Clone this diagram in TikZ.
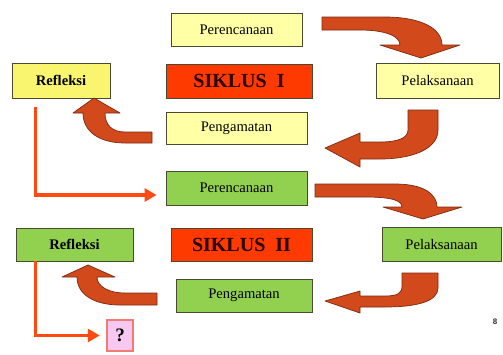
\documentclass[tikz,border=0pt]{standalone}
\usepackage{fontspec}
\setmainfont{Liberation Serif}
\setsansfont{Liberation Sans}
\usepackage{xcolor}
\usetikzlibrary{shapes,arrows,positioning,arrows.meta}

\definecolor{paleyellow}{HTML}{FFFFA6}
\definecolor{reflyellow}{HTML}{FAF56E}
\definecolor{siklusred}{HTML}{FF3A00}
\definecolor{leafgreen}{HTML}{92D050}
\definecolor{boxedge}{HTML}{4A4A30}
\definecolor{arrowred}{HTML}{D2491C}
\definecolor{arrowedge}{HTML}{7A2A10}
\definecolor{linered}{HTML}{FF4A12}
\definecolor{askpink}{HTML}{F6C8F2}
\definecolor{askedge}{HTML}{F07C74}

\begin{document}
\begin{tikzpicture}[x=1pt, y=-1pt,
    stage/.style={rectangle, draw=boxedge, line width=0.8pt, inner sep=0pt,
        font=\fontsize{14.6}{16}\selectfont},
    cycletitle/.style={stage, fill=siklusred, text=black!85!red,
        font=\fontsize{20}{22}\selectfont\bfseries},
    blockarrow/.style={fill=arrowred, draw=arrowedge, line width=0.7pt, line join=round},
    flowline/.style={draw=linered, line width=3.5pt, -{Triangle[length=12pt,width=13pt]}}]
    \useasboundingbox (0,0) rectangle (503,354);

    \begin{scope}
        % Siklus I
        \node[stage, fill=paleyellow, minimum width=131pt, minimum height=33pt] (plan1) at (236.5,29.5) {Perencanaan};
        \node[stage, fill=reflyellow, minimum width=98pt, minimum height=35pt, font=\fontsize{14.6}{16}\selectfont\bfseries] (refl1) at (61,80.5) {Refleksi};
        \node[cycletitle, minimum width=146pt, minimum height=34pt] (cyc1) at (239,81) {SIKLUS\ \ I};
        \node[stage, fill=paleyellow, minimum width=123pt, minimum height=35pt] (act1) at (437.5,80.5) {Pelaksanaan};
        \node[stage, fill=paleyellow, minimum width=141pt, minimum height=32pt] (obs1) at (236.5,128) {Pengamatan};

        % Siklus II
        \node[stage, fill=leafgreen, minimum width=141pt, minimum height=34pt] (plan2) at (236.5,188) {Perencanaan};
        \node[stage, fill=leafgreen, minimum width=117pt, minimum height=33pt, font=\fontsize{14.6}{16}\selectfont\bfseries] (refl2) at (74.5,244.5) {Refleksi};
        \node[cycletitle, minimum width=141pt, minimum height=33pt] (cyc2) at (241.5,244.5) {SIKLUS\ \ II};
        \node[stage, fill=leafgreen, minimum width=119pt, minimum height=34pt] (act2) at (441.5,244) {Pelaksanaan};
        \node[stage, fill=leafgreen, minimum width=136pt, minimum height=33pt] (obs2) at (244,295.5) {Pengamatan};

        % Next step
        \node[rectangle, draw=askedge, line width=2.5pt, fill=askpink, minimum width=26pt, minimum height=31pt,
            inner sep=0pt, font=\fontsize{19}{21}\selectfont\bfseries] (ask) at (120,335.5) {?};
        \node[font=\sffamily\bfseries\fontsize{8}{9}\selectfont, text=black!80] (page) at (495,322) {8};

        % Block arrows, siklus I
        \draw[blockarrow] (322,17) -- (385,17) .. controls (420,17) and (442,28) .. (442,45)
            -- (460,45) -- (421,58) -- (380,45) -- (400,45)
            .. controls (400,36) and (385,30) .. (360,30) -- (322,30) -- cycle;
        \draw[blockarrow] (408,110) -- (438,110) -- (438,130) .. controls (438,150) and (410,159) .. (380,159)
            -- (360,159) -- (360,167) -- (325,148) -- (360,133) -- (360,142) -- (380,142)
            .. controls (398,142) and (408,138) .. (408,130) -- cycle;
        \draw[blockarrow] (152,132) -- (125,132) .. controls (112,132) and (105,125) .. (105,113)
            -- (120,113) -- (94,98) -- (73,113) -- (83,113)
            .. controls (83,132) and (100,143) .. (125,143) -- (152,143) -- cycle;

        % Block arrows, siklus II
        \draw[blockarrow] (315,184) -- (395,184) .. controls (425,184) and (437,195) .. (437,207)
            -- (462,207) -- (423,219) -- (383,207) -- (402,207)
            .. controls (402,200) and (390,197) .. (365,197) -- (315,197) -- cycle;
        \draw[blockarrow] (402,273) -- (438,273) -- (438,288) .. controls (438,302) and (415,307) .. (385,307)
            -- (360,307) -- (360,313) -- (325,301) -- (360,291) -- (360,296) -- (385,296)
            .. controls (398,296) and (402,293) .. (402,286) -- cycle;
        \draw[blockarrow] (157,293) -- (125,293) .. controls (108,293) and (97,286) .. (97,277)
            -- (115,277) -- (88,265) -- (62,277) -- (77,277)
            .. controls (77,295) and (95,305) .. (120,305) -- (157,305) -- cycle;

        % Connections
        \draw[flowline] ([xshift=24pt,yshift=-9pt]refl1.south west) |- ([xshift=-9pt,yshift=-7pt]plan2.west);
        \draw[flowline] ([xshift=20pt]refl2.south west) |- ([xshift=-6pt]ask.west);
    \end{scope}
\end{tikzpicture}
\end{document}
